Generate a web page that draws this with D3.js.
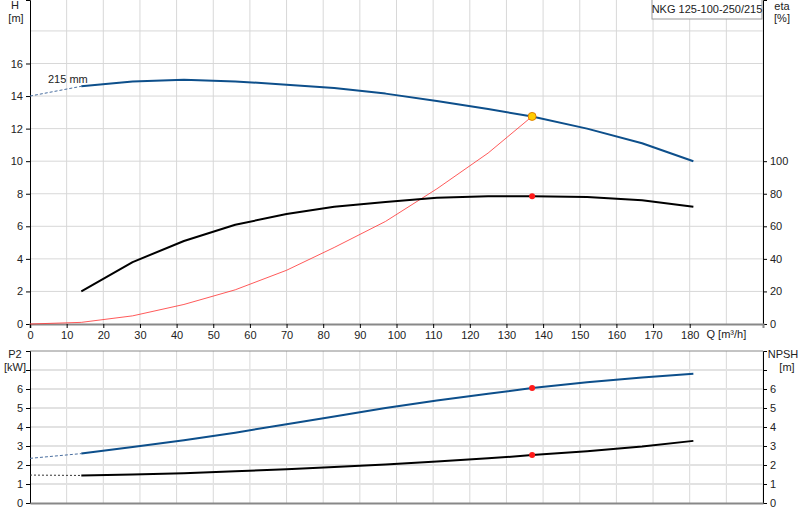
<!DOCTYPE html><html><head><meta charset="utf-8"><script src="https://cdn.jsdelivr.net/npm/d3@7"></script>
<style>body{margin:0;background:#fff}text{font-family:Arial,"Liberation Sans",sans-serif;font-size:11px;fill:#222}</style></head><body>
<svg id="c" width="800" height="520"></svg>
<script>
const qTicks=[0,10,20,30,40,50,60,70,80,90,100,110,120,130,140,150,160,170,180];
const hTicks=[0,2,4,6,8,10,12,14,16];
const etaTicks=[0,20,40,60,80,100];
const pTicks=[0,1,2,3,4,5,6];
const qPts=[14,28,42,56,70,83,97,111,125,137,152,167,181];
const hVals=[14.6,14.9,15.0,14.9,14.7,14.5,14.15,13.7,13.2,12.75,12.0,11.1,10.0];
const etaVals=[20,38,51,61,67.5,72,75,77.5,78.5,78.5,78,76,72];
const sysQ=[0,14,28,42,56,70,83,97,111,125,137];
const sysH=[0,0.1,0.5,1.2,2.1,3.3,4.7,6.3,8.3,10.5,12.75];
const p2Vals=[2.6,2.95,3.3,3.7,4.15,4.55,5.0,5.4,5.75,6.05,6.35,6.6,6.8];
const npshVals=[1.45,1.5,1.57,1.67,1.78,1.9,2.03,2.18,2.35,2.52,2.72,2.97,3.27];
const hExt=[[0,14],[14,14.6]], p2Ext=[[0,2.35],[14,2.6]], npExt=[[0,1.47],[14,1.45]];
const duty={q:137,h:12.75,eta:78.5,p2:6.05,npsh:2.52};
const svg=d3.select("#c");
const x=d3.scaleLinear([0,200],[30,763]);
const yH=d3.scaleLinear([0,19.9],[324,0]);
const yE=d3.scaleLinear([0,199],[324,0]);
const yP=d3.scaleLinear([0,8],[503,351]);
const grid="#d8d8d8";
const g=svg.append("g");
d3.range(10,201,10).forEach(q=>g.append("line").attr("x1",x(q)).attr("x2",x(q)).attr("y1",0).attr("y2",324).attr("stroke",grid));
d3.range(2,19,2).forEach(h=>g.append("line").attr("x1",30).attr("x2",763).attr("y1",yH(h)).attr("y2",yH(h)).attr("stroke",grid));
d3.range(10,201,10).forEach(q=>g.append("line").attr("x1",x(q)).attr("x2",x(q)).attr("y1",351).attr("y2",503).attr("stroke",grid));
d3.range(1,8,1).forEach(v=>g.append("line").attr("x1",30).attr("x2",763).attr("y1",yP(v)).attr("y2",yP(v)).attr("stroke","#e2e2e2").attr("stroke-width",2));
g.append("line").attr("x1",30).attr("x2",763).attr("y1",351).attr("y2",351).attr("stroke","#888");
svg.append("g").attr("transform","translate(30,0)").call(d3.axisLeft(yH).tickValues(hTicks).tickSize(4).tickFormat(d=>d?d:"0")).call(a=>a.select(".domain").attr("stroke","#000"));
svg.append("g").attr("transform","translate(763,0)").call(d3.axisRight(yE).tickValues(etaTicks).tickSize(4)).call(a=>a.select(".domain").attr("stroke","#000"));
svg.append("g").attr("transform","translate(0,324)").call(d3.axisBottom(x).tickValues(qTicks).tickSize(4)).call(a=>a.select(".domain").attr("stroke","#888").attr("stroke-width",2));
svg.append("g").attr("transform","translate(30,0)").call(d3.axisLeft(yP).tickValues([0,1,2,3,4,5,6,7]).tickSize(4).tickFormat(d=>d==7?"":d)).call(a=>a.select(".domain").attr("stroke","#000"));
svg.append("g").attr("transform","translate(763,0)").call(d3.axisRight(yP).tickValues([0,1,2,3,4,5,6,7]).tickSize(4).tickFormat(d=>d==7?"":d)).call(a=>a.select(".domain").attr("stroke","#000"));
svg.append("g").attr("transform","translate(0,503)").call(d3.axisBottom(x).tickValues([]).tickSize(0)).call(a=>a.select(".domain").attr("stroke","#888").attr("stroke-width",2));
svg.selectAll(".tick text").style("font-size","11px").attr("fill","#222");
svg.append("text").attr("x",x(190)).attr("y",338).attr("text-anchor","middle").text("Q [m³/h]");
const lab=(t,xx,yy,a)=>svg.append("text").attr("x",xx).attr("y",yy).attr("text-anchor",a||"middle").text(t);
lab("H",15,9);lab("[m]",16,22);lab("eta",782,10);lab("[%]",782,22);
lab("P2",15,358);lab("[kW]",15,371);lab("NPSH",783,358);lab("[m]",787,371);
lab("215 mm",48,83,"start");
svg.append("rect").attr("x",652).attr("y",-1).attr("width",110).attr("height",20).attr("fill","#fff").attr("stroke","#999");
lab("NKG 125-100-250/215",707,13);
const ln=(ys)=>d3.line().x(d=>x(d[0])).y(d=>ys(d[1]));
const path=(data,ys,col,w,dash)=>svg.append("path").attr("d",ln(ys)(data)).attr("fill","none").attr("stroke",col).attr("stroke-width",w).attr("stroke-dasharray",dash||null).attr("stroke-linejoin","round");
path(hExt,yH,"#4a6fa0",1,"3,2");
path(p2Ext,yP,"#4a6fa0",1,"3,2");
path(npExt,yP,"#333",1,"2,2");
path(sysQ.map((q,i)=>[q,sysH[i]]),yH,"#ff3030",0.8);
path(qPts.map((q,i)=>[q,hVals[i]]),yH,"#0d4f8b",2);
path(qPts.map((q,i)=>[q,etaVals[i]]),yE,"#000",2);
path(qPts.map((q,i)=>[q,p2Vals[i]]),yP,"#0d4f8b",2);
path(qPts.map((q,i)=>[q,npshVals[i]]),yP,"#000",2);
svg.append("circle").attr("cx",x(duty.q)).attr("cy",yH(duty.h)).attr("r",4).attr("fill","#ffcc00").attr("stroke","#e08000");
[[yE,duty.eta],[yP,duty.p2],[yP,duty.npsh]].forEach(([s,v])=>svg.append("circle").attr("cx",x(duty.q)).attr("cy",s(v)).attr("r",3).attr("fill","#ff1a1a"));
</script></body></html>
